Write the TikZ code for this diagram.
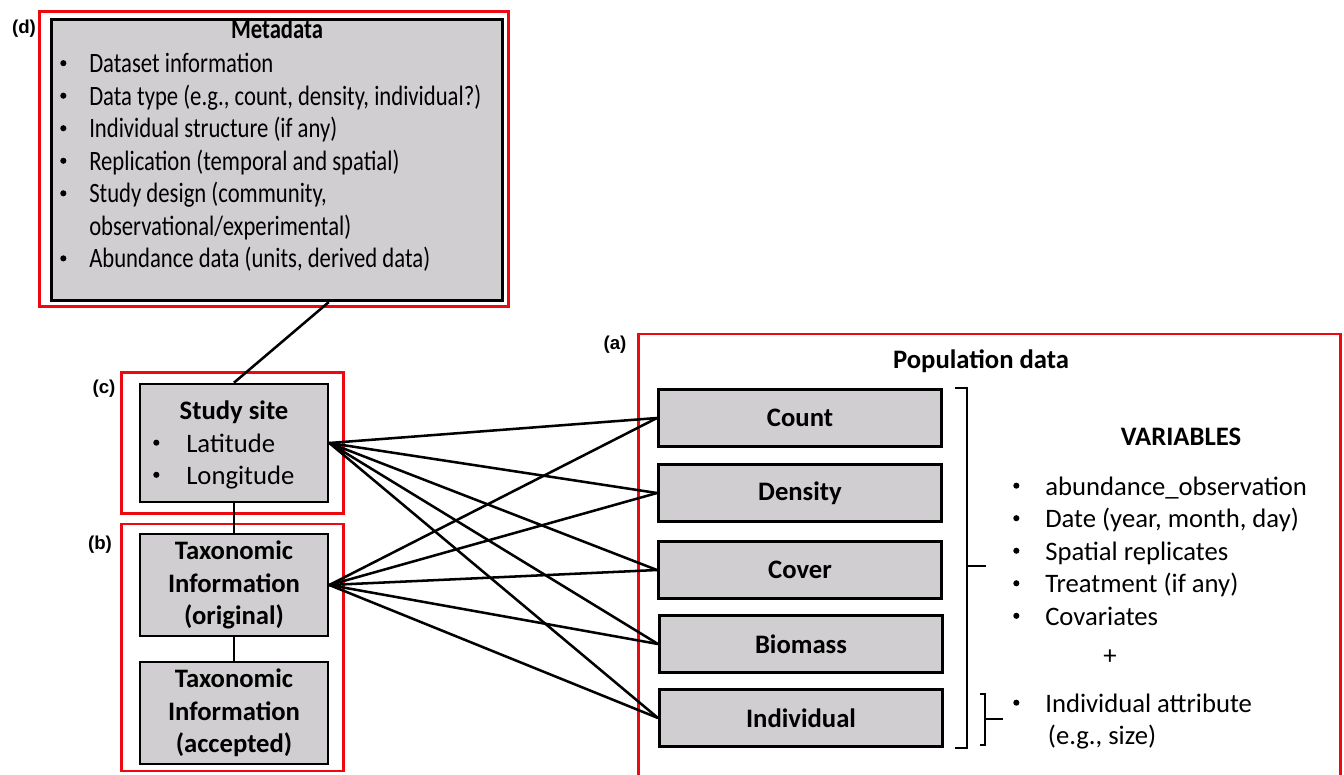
\documentclass[tikz,border=0pt]{standalone}
\usepackage{fontspec}
\setmainfont{Carlito}
\newfontfamily\labfont{Liberation Sans}
\usepackage{array}
\usepackage{graphicx}
\definecolor{boxgray}{RGB}{208,206,208}
\definecolor{framered}{RGB}{236,10,16}
\newcommand{\bul}{\tikz[baseline=0pt]\fill (0pt,7pt) circle (2.3pt);}
\newcommand{\narrow}[1]{\scalebox{0.81}[1]{#1}}

\begin{document}
\begin{tikzpicture}[x=0.75pt,y=-0.75pt,
    font=\fontsize{20pt}{24.4pt}\selectfont,
    graybox/.style={draw=black,fill=boxgray,line width=2pt,inner sep=0pt},
    popbox/.style={graybox,minimum width=212.5pt,minimum height=43pt,font=\fontsize{20pt}{24.4pt}\selectfont\bfseries},
    taxbox/.style={graybox,minimum width=141pt,minimum height=76.5pt,align=center,font=\fontsize{20pt}{24.4pt}\selectfont\bfseries},
    redframe/.style={draw=framered,line width=2.2pt},
    panel/.style={font=\labfont\fontsize{14pt}{16pt}\selectfont\bfseries},
    metafont/.style={font=\fontsize{21pt}{24.4pt}\selectfont},
    link/.style={line width=1.9pt}]
\useasboundingbox (0,0) rectangle (1344,774);

%METADATA
  \draw[redframe] (39.5,11.5) rectangle (508.5,306.5);
  \node (pd) at (24,29) [panel] {(d)};
  \node (meta) at (277,160) [graybox,line width=2.2pt,minimum width=338pt,minimum height=211pt] {};
  \node (metahead) at (277,39) [anchor=base,metafont] {\narrow{\bfseries Metadata}};
  \node (metalist) at (60,72.5) [anchor=base west,inner sep=0pt,metafont]
    {\begin{tabular}[t]{@{}p{21.75pt}@{}l@{}}
      \bul & \narrow{Dataset information}\\
      \bul & \narrow{Data type (e.g., count, density, individual?)}\\
      \bul & \narrow{Individual structure (if any)}\\
      \bul & \narrow{Replication (temporal and spatial)}\\
      \bul & \narrow{Study design (community,}\\
           & \narrow{observational/experimental)}\\
      \bul & \narrow{Abundance data (units, derived data)}
    \end{tabular}};

%STUDY SITE
  \draw[redframe] (121.5,372.5) rectangle (343.5,513.5);
  \node (pc) at (104,389) [panel] {(c)};
  \node (site) at (234,443) [graybox,minimum width=141pt,minimum height=88.5pt] {};
  \node (sitehead) at (234,419) [anchor=base] {\bfseries Study site};
  \node (sitelist) at (153,452) [anchor=base west,inner sep=0pt]
    {\begin{tabular}[t]{@{}p{24.75pt}@{}l@{}}
      \bul & Latitude\\[-0.3pt]
      \bul & Longitude
    \end{tabular}};

%TAXONOMY
  \draw[redframe] (121.5,524) rectangle (343.5,771);
  \node (pb) at (100,545) [panel] {(b)};
  \node (taxo) at (234,585) [taxbox] {Taxonomic\\Information\\(original)};
  \node (taxacc) at (234,713) [taxbox] {Taxonomic\\Information\\(accepted)};

%POPULATION DATA
  \draw[redframe] (638.5,334) rectangle (1340.5,800);
  \node (pa) at (615,345) [panel] {(a)};
  \node (pophead) at (981,368) [anchor=base] {\bfseries Population data};
  \node (count) at (800,418) [popbox] {Count};
  \node (density) at (800,493) [popbox] {Density};
  \node (cover) at (800,570) [popbox] {Cover};
  \node (biomass) at (801,644) [popbox] {Biomass};
  \node (indiv) at (801,718) [popbox] {Individual};

%VARIABLES
  \draw[line width=1.5pt] (955,388) -- (967,388) -- (967,748) -- (955,748);
  \draw[line width=1.5pt] (967,566) -- (986,566);
  \draw[line width=1.5pt] (980,694) -- (985,694) -- (985,745) -- (980,745);
  \draw[line width=1.5pt] (985,719) -- (1003,719);
  \node (varhead) at (1181,445) [anchor=base] {\bfseries VARIABLES};
  \node (varlist) at (1013,495) [anchor=base west,inner sep=0pt]
    {\begin{tabular}[t]{@{}p{24pt}@{}l@{}}
      \bul & abundance\_observation\\
      \bul & Date (year, month, day)\\
      \bul & Spatial replicates\\
      \bul & Treatment (if any)\\
      \bul & Covariates
    \end{tabular}};
  \node (plus) at (1110,657) {+};
  \node (attrlist) at (1013,712) [anchor=base west,inner sep=0pt]
    {\begin{tabular}[t]{@{}p{24pt}@{}l@{}}
      \bul & Individual attribute\\
           & \hspace{2pt}(e.g., size)
    \end{tabular}};

%LINKS
  \draw[link] (meta.290) -- (site.north);
  \draw[link] (site.south) -- (taxo.north);
  \draw[link] (taxo.south) -- (taxacc.north);
  \foreach \t in {count,density,cover,biomass,indiv}{
    \draw[link] (site.east) -- (\t.west);
    \draw[link] (taxo.east) -- (\t.west);
  }
\end{tikzpicture}
\end{document}
